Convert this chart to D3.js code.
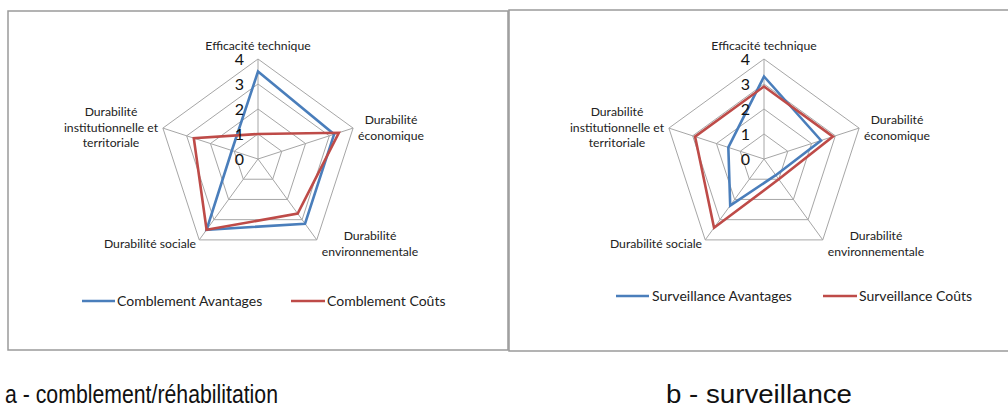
<html>
<head>
<script src="https://d3js.org/d3.v7.min.js"></script>
<style>
body { margin: 0; background: #fff; }
svg { display: block; }
.axislabel { font-family: Lato, 'Open Sans', sans-serif; font-size: 12.2px; fill: #222; }
.ticklabel { font-family: Lato, 'Open Sans', sans-serif; font-size: 16px; fill: #111; }
.legend { font-family: Lato, 'Open Sans', sans-serif; font-size: 14px; fill: #222; }
.caption { font-family: 'Liberation Sans', Arial, sans-serif; font-size: 26px; fill: #111; }
</style>
</head>
<body>
<div id="plot"></div>
<script>

// axes of the radar, in drawing order (clockwise from top)
var axes = ["Efficacité technique", "Durabilité économique", "Durabilité environnementale",
            "Durabilité sociale", "Durabilité institutionnelle et territoriale"];
var axisLines = [["Efficacité technique"], ["Durabilité", "économique"], ["Durabilité", "environnementale"],
                 ["Durabilité sociale"], ["Durabilité", "institutionnelle et", "territoriale"]];
var ticks = [0, 1, 2, 3, 4];

// values
var comblementAvantages = [3.5, 3.2, 3.2, 3.5, 1.1];
var comblementCouts = [1.0, 3.4, 2.7, 3.5, 2.7];
var surveillanceAvantages = [3.3, 2.4, 0.8, 2.3, 1.5];
var surveillanceCouts = [2.9, 2.9, 1.0, 3.4, 2.9];

var seriesNames = [["Comblement Avantages", "Comblement Coûts"], ["Surveillance Avantages", "Surveillance Coûts"]];
var captions = ["a - comblement/réhabilitation", "b - surveillance"];

var width = 1008, height = 412;
var blue = "#4a7ebb", red = "#be4b48";

var svg = d3.select("#plot").append("svg").attr("width", width).attr("height", height);

var rScale = d3.scaleLinear().domain([0, 4]).range([0, 100]);
var aScale = d3.scaleLinear().domain([0, axes.length]).range([0, 2 * Math.PI]);

function pt(i, v) {
  var a = aScale(i);
  return [Math.sin(a) * rScale(v), -Math.cos(a) * rScale(v)];
}

// label offsets from chart centre, per axis
var labelPos = [[0, -113], [133, -39], [112, 77], [-108, 85], [-147, -47]];
var lineGap = 15.5;

var panels = [
  { box: [8, 11, 500, 339], cx: 258, cy: 159, data: [comblementAvantages, comblementCouts],
    legend: [[82, 115, 117], [291, 325, 327]], ly: 301, caption: [5, 403, 273] },
  { box: [509, 10, 520, 341], cx: 764, cy: 159, data: [surveillanceAvantages, surveillanceCouts],
    legend: [[616, 649, 652], [823, 857, 859]], ly: 296, caption: [666, 403, 186] }
];

panels.forEach(function (p, k) {
  svg.append("rect")
  .attr("x", p.box[0]).attr("y", p.box[1]).attr("width", p.box[2]).attr("height", p.box[3])
  .attr("fill", "none").attr("stroke", "#9a9a9a").attr("stroke-width", 1.5);

  var g = svg.append("g").attr("transform", "translate(" + p.cx + "," + p.cy + ")");

  // grid rings
  ticks.slice(1).forEach(function (t) {
    g.append("polygon")
    .attr("points", axes.map(function (d, i) { return pt(i, t).join(","); }).join(" "))
    .attr("fill", "none").attr("stroke", "#a6a6a6").attr("stroke-width", 1);
  });
  // spokes
  axes.forEach(function (d, i) {
    var e = pt(i, 4);
    g.append("line").attr("x1", 0).attr("y1", 0).attr("x2", e[0]).attr("y2", e[1])
    .attr("stroke", "#a6a6a6").attr("stroke-width", 1);
  });

  // series
  var line = d3.lineRadial()
  .angle(function (d, i) { return aScale(i); })
  .radius(function (d) { return rScale(d); })
  .curve(d3.curveLinearClosed);
  [blue, red].forEach(function (c, s) {
    g.append("path").attr("d", line(p.data[s]))
    .attr("fill", "none").attr("stroke", c).attr("stroke-width", 2.6).attr("stroke-linejoin", "miter");
  });

  // tick labels
  ticks.forEach(function (t) {
    g.append("text").attr("class", "ticklabel")
    .attr("x", -14).attr("y", -rScale(t)).attr("dy", "0.36em")
    .attr("text-anchor", "end").text(t);
  });

  // axis labels
  axisLines.forEach(function (lines, i) {
    var t = g.append("text").attr("class", "axislabel").attr("text-anchor", "middle");
    lines.forEach(function (l, j) {
      t.append("tspan").attr("x", labelPos[i][0]).attr("y", labelPos[i][1] + j * lineGap)
      .attr("dy", "0.35em").text(l);
    });
  });

  // legend
  [blue, red].forEach(function (c, s) {
    var L = p.legend[s];
    svg.append("line").attr("x1", L[0]).attr("x2", L[1]).attr("y1", p.ly).attr("y2", p.ly)
    .attr("stroke", c).attr("stroke-width", 2.6);
    svg.append("text").attr("class", "legend").attr("x", L[2]).attr("y", p.ly).attr("dy", "0.35em")
    .text(seriesNames[k][s]);
  });

  svg.append("text").attr("class", "caption")
  .attr("x", p.caption[0]).attr("y", p.caption[1])
  .attr("textLength", p.caption[2]).attr("lengthAdjust", "spacingAndGlyphs")
  .text(captions[k]);
});

</script>
</body>
</html>
